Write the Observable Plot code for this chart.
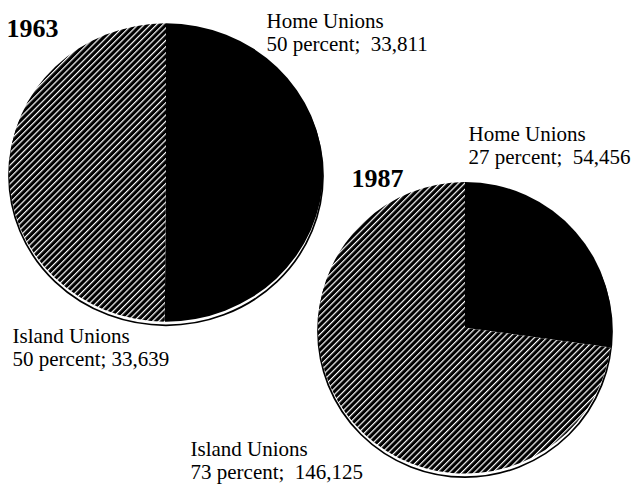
<!DOCTYPE html>
<html>
<head>
<meta charset="utf-8">
<script src="https://cdn.jsdelivr.net/npm/d3@7"></script>
<script src="https://cdn.jsdelivr.net/npm/@observablehq/plot@0.6"></script>
<style>
  html, body { margin: 0; padding: 0; background: #fff; }
  #chart svg { display: block; }
</style>
</head>
<body>
<div id="chart"></div>
<script>
// ---- Data ----
const years = ["1963", "1987"];
const groups = ["Home Unions", "Island Unions"];
const members1963 = [33811, 33639];
const members1987 = [54456, 146125];
const percents1963 = [50, 50];
const percents1987 = [27, 73];
const gaps1963 = [2, 1];   // spaces after the semicolon, as printed
const gaps1987 = [2, 2];

// ---- Layout (pixel coordinates, identity scales) ----
const W = 636, H = 484;
const pieLayout = [
  {cx: 166, cy: 172.5, rx: 157, ry: 149.2},
  {cx: 465, cy: 327.8, rx: 147, ry: 145.8}
];
const yearPos = [{x: 6, y: 36}, {x: 351, y: 186}];
const labelPos = [
  [{x: 266, y: 50}, {x: 12, y: 365}],
  [{x: 468, y: 163}, {x: 190, y: 478}]
];
const shadowOffset = 3.6;

const membersByYear = [members1963, members1987];
const percentsByYear = [percents1963, percents1987];
const gapsByYear = [gaps1963, gaps1987];
const fmt = d3.format(",");

// wedges, built from data with d3.pie (clockwise from 12 o'clock)
const wedges = [];
years.forEach((yr, k) => {
  const arcs = d3.pie().sort(null)(membersByYear[k]);
  arcs.forEach((a, j) => {
    wedges.push({year: yr, group: groups[j], a0: a.startAngle, a1: a.endAngle, ...pieLayout[k]});
  });
});
const pies = years.map((yr, k) => ({year: yr, ...pieLayout[k]}));

const labels = [];
years.forEach((yr, k) => {
  groups.forEach((g, j) => {
    const sep = ";" + "\u00A0".repeat(gapsByYear[k][j] - 1) + " ";
    labels.push({
      text: `${g}\n${percentsByYear[k][j]} percent${sep}${fmt(membersByYear[k][j])}`,
      ...labelPos[k][j]
    });
  });
});
const yearLabels = years.map((yr, k) => ({text: yr, ...yearPos[k]}));

const NS = "http://www.w3.org/2000/svg";

function shadowRender(index, scales, values, dims, context) {
  const doc = context.document;
  const g = doc.createElementNS(NS, "g");
  for (const i of index) {
    const d = pies[i];
    const cx = scales.x(d.cx), cy = scales.y(d.cy + shadowOffset);
    const rx = scales.x(d.cx + d.rx) - cx, ry = scales.y(d.cy + d.ry) - scales.y(d.cy);
    const e = doc.createElementNS(NS, "ellipse");
    e.setAttribute("cx", cx); e.setAttribute("cy", cy);
    e.setAttribute("rx", rx); e.setAttribute("ry", ry);
    e.setAttribute("fill", "white");
    e.setAttribute("stroke", "black");
    e.setAttribute("stroke-width", 1.7);
    g.appendChild(e);
  }
  return g;
}

function wedgeRender(index, scales, values, dims, context) {
  const doc = context.document;
  const g = doc.createElementNS(NS, "g");
  const defs = doc.createElementNS(NS, "defs");
  defs.innerHTML = `<pattern id="hatch" patternUnits="userSpaceOnUse" width="4.4" height="4.4" patternTransform="rotate(45)">
      <rect width="4.4" height="4.4" fill="black"/>
      <rect x="0" y="0" width="1.2" height="4.4" fill="white"/>
    </pattern>`;
  g.appendChild(defs);
  for (const i of index) {
    const d = wedges[i];
    const cx = scales.x(d.cx), cy = scales.y(d.cy);
    const rx = scales.x(d.cx + d.rx) - cx, ry = scales.y(d.cy + d.ry) - cy;
    const p = (a) => [cx + rx * Math.sin(a), cy - ry * Math.cos(a)];
    const [x0, y0] = p(d.a0), [x1, y1] = p(d.a1);
    const large = (d.a1 - d.a0) > Math.PI ? 1 : 0;
    const path = doc.createElementNS(NS, "path");
    path.setAttribute("d", `M${cx},${cy}L${x0},${y0}A${rx},${ry} 0 ${large} 1 ${x1},${y1}Z`);
    path.setAttribute("fill", d.group === groups[0] ? "black" : "url(#hatch)");
    g.appendChild(path);
  }
  return g;
}

const chart = Plot.plot({
  width: W,
  height: H,
  margin: 0,
  x: {domain: [0, W], range: [0, W], axis: null},
  y: {domain: [0, H], range: [0, H], axis: null},
  style: {background: "white"},
  marks: [
    Plot.dot(pies, {x: "cx", y: "cy", render: shadowRender}),
    Plot.dot(wedges, {x: "cx", y: "cy", render: wedgeRender}),
    Plot.text(yearLabels, {
      x: "x", y: "y", text: "text",
      textAnchor: "start", lineAnchor: "bottom",
      fontFamily: "Liberation Serif", fontWeight: "bold", fontSize: 26, fill: "black"
    }),
    Plot.text(labels, {
      x: "x", y: "y", text: "text",
      textAnchor: "start", lineAnchor: "bottom", lineHeight: 1.05,
      fontFamily: "Liberation Serif", fontSize: 21, fill: "black"
    })
  ]
});
document.getElementById("chart").appendChild(chart);
</script>
</body>
</html>
